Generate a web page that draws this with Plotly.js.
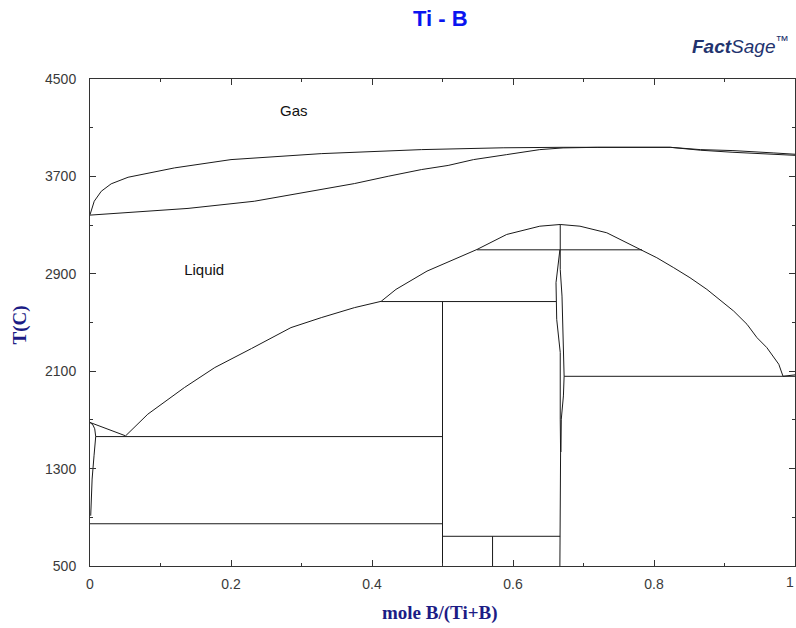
<!DOCTYPE html>
<html>
<head>
<meta charset="utf-8">
<script src="https://cdn.plot.ly/plotly-3.0.1.min.js"></script>
<style>
  html, body { margin: 0; padding: 0; background: #fff; }
  #chart { width: 796px; height: 628px; }
</style>
</head>
<body>
<div id="chart"></div>
<script>
// Ti - B phase diagram, temperature in °C versus mole fraction B/(Ti+B)

// Axis ticks (the label at x = 1 sits flush with the right edge, drawn separately)
const xTickVals  = [0, 0.2, 0.4, 0.6, 0.8];
const xTickText  = ['0', '0.2', '0.4', '0.6', '0.8'];
const xEndLabel  = '1';
const xMinorVals = [0.1, 0.3, 0.5, 0.7, 0.9];
const yTickVals  = [500, 1300, 2100, 2900, 3700, 4500];
const yMinorVals = [900, 1700, 2500, 3300, 4100];

// Gas / liquid two-phase loop
const dewX    = [0, 0.006, 0.016, 0.030, 0.054, 0.12, 0.20, 0.328, 0.47, 0.586, 0.671, 0.823, 0.866, 0.912, 0.969, 1];
const dewT    = [3385, 3496, 3578, 3639, 3693, 3770, 3838, 3887, 3920, 3935, 3939, 3939, 3920, 3912, 3893, 3882];
const bubbleX = [0, 0.044, 0.139, 0.233, 0.281, 0.328, 0.375, 0.423, 0.47, 0.508, 0.544, 0.591, 0.638, 0.671, 0.72, 0.823, 0.866, 0.912, 0.95, 1];
const bubbleT = [3382, 3398, 3437, 3496, 3543, 3592, 3641, 3701, 3756, 3790, 3838, 3879, 3920, 3934, 3939, 3939, 3915, 3898, 3887, 3873];

// Liquidus, Ti-rich branch
const liqTiX = [0, 0.0505];
const liqTiT = [1679, 1569];

// Liquidus, main branch through TiB2 maximum
const liqX = [0.0505, 0.082, 0.134, 0.177, 0.229, 0.285, 0.328, 0.375, 0.413, 0.434, 0.478, 0.549, 0.591, 0.638, 0.667, 0.695, 0.733, 0.783, 0.804, 0.828, 0.851, 0.875, 0.899, 0.913, 0.932, 0.946, 0.960, 0.970, 0.977, 0.983, 1];
const liqT = [1569, 1747, 1966, 2130, 2286, 2458, 2540, 2622, 2674, 2772, 2922, 3100, 3223, 3291, 3305, 3291, 3237, 3097, 3032, 2950, 2868, 2772, 2663, 2594, 2485, 2376, 2294, 2212, 2157, 2058, 2070];

// bcc-Ti solidus / solvus
const solTiX = [0, 0.004, 0.0067, 0.0081, 0.0057, 0.003, 0.001];
const solTiT = [1679, 1660, 1627, 1563, 1405, 1214, 913];

// TiB2 homogeneity range
const tib2LeftX  = [0.6665, 0.661, 0.662, 0.667, 0.667, 0.6675, 0.6665];
const tib2LeftT  = [3097, 2827, 2526, 2253, 1706, 1436, 500];
const tib2RightX = [0.667, 0.667, 0.6695, 0.6715, 0.6725, 0.6715, 0.6685, 0.668];
const tib2RightT = [3097, 2936, 2717, 2253, 2058, 1897, 1706, 1436];

// Invariant (horizontal) lines
const invT  = [1563, 847, 2672, 3097, 2058, 744];
const invX0 = [0.0081, 0, 0.413, 0.549, 0.6725, 0.5];
const invX1 = [0.5, 0.5, 0.661, 0.783, 1, 0.6668];

// Line compounds (vertical lines)
const cmpX  = [0.5, 0.571, 0.667];
const cmpT0 = [500, 500, 3097];
const cmpT1 = [2672, 744, 3305];

// Phase field labels
const labelText = ['Gas', 'Liquid'];
const labelX = [0.289, 0.162];
const labelT = [4225, 2920];

const LINE = {color: '#1a1a1a', width: 1};
const traces = [];
function addLine(x, y) {
  traces.push({type: 'scatter', mode: 'lines', x: x, y: y, line: LINE, hoverinfo: 'skip', showlegend: false});
}
addLine(dewX, dewT);
addLine(bubbleX, bubbleT);
addLine(liqTiX, liqTiT);
addLine(liqX, liqT);
addLine(solTiX, solTiT);
addLine(tib2LeftX, tib2LeftT);
addLine(tib2RightX, tib2RightT);

// horizontal invariants, joined with gaps
const hx = [], hy = [];
invT.forEach((t, i) => { hx.push(invX0[i], invX1[i], null); hy.push(t, t, null); });
addLine(hx, hy);

// vertical compound lines
const vx = [], vy = [];
cmpX.forEach((x, i) => { vx.push(x, x, null); vy.push(cmpT0[i], cmpT1[i], null); });
addLine(vx, vy);

// phase labels
traces.push({
  type: 'scatter', mode: 'text', x: labelX, y: labelT, text: labelText,
  textfont: {family: 'Liberation Sans, Arial, sans-serif', size: 15, color: '#111'},
  hoverinfo: 'skip', showlegend: false
});

const tickFont = {family: 'Liberation Sans, Arial, sans-serif', size: 14, color: '#3a3a3a'};
const axisTitleFont = {family: 'Liberation Serif, Times New Roman, serif', size: 19, color: '#1c1c85'};

const layout = {
  width: 796, height: 628,
  margin: {l: 90, r: 1, t: 79, b: 62, pad: 0},
  paper_bgcolor: '#fff', plot_bgcolor: '#fff',
  title: {
    text: '<b>Ti - B</b>',
    font: {family: 'Liberation Sans, Arial, sans-serif', size: 22, color: '#0a14f0'},
    xref: 'paper', x: 0.497, xanchor: 'center',
    yref: 'container', y: 0.971, yanchor: 'middle'
  },
  xaxis: {
    range: [0, 1], tickmode: 'array', tickvals: xTickVals, ticktext: xTickText,
    ticks: 'inside', ticklen: 6, tickwidth: 1, tickcolor: '#333',
    minor: {tickmode: 'array', tickvals: xMinorVals, ticks: 'inside', ticklen: 3, tickwidth: 1, tickcolor: '#333', showgrid: false},
    showline: true, linecolor: '#333', linewidth: 1, mirror: 'ticks',
    showgrid: false, zeroline: false,
    tickfont: tickFont, ticklabelstandoff: 5, fixedrange: true
  },
  yaxis: {
    range: [500, 4500], tickmode: 'array', tickvals: yTickVals,
    ticks: 'inside', ticklen: 6, tickwidth: 1, tickcolor: '#333',
    minor: {tickmode: 'array', tickvals: yMinorVals, ticks: 'inside', ticklen: 3, tickwidth: 1, tickcolor: '#333', showgrid: false},
    showline: true, linecolor: '#333', linewidth: 1, mirror: 'ticks',
    showgrid: false, zeroline: false, ticklabeloverflow: 'allow',
    tickfont: tickFont, ticklabelstandoff: 10, fixedrange: true
  },
  annotations: [
    {text: xEndLabel, xref: 'paper', yref: 'paper', x: 1, y: 0, xanchor: 'right', yanchor: 'top',
     yshift: -6, xshift: 1, showarrow: false, font: tickFont},
    {text: '<b>T(C)</b>', textangle: -90, xref: 'paper', yref: 'paper',
     x: -0.1, y: 0.495, xanchor: 'center', yanchor: 'middle', showarrow: false, font: axisTitleFont},
    {text: '<b>mole B/(Ti+B)</b>', xref: 'paper', yref: 'paper',
     x: 0.496, y: -0.097, xanchor: 'center', yanchor: 'middle', showarrow: false, font: axisTitleFont},
    {text: '<b><i>Fact</i></b><i>Sage</i><sup>™</sup>', xref: 'paper', yref: 'paper',
     x: 0.995, y: 1.069, xanchor: 'right', yanchor: 'middle', showarrow: false,
     font: {family: 'Liberation Sans Narrow, Liberation Sans, Arial, sans-serif', size: 19, color: '#23336e'}}
  ]
};

Plotly.newPlot('chart', traces, layout, {displayModeBar: false, staticPlot: true});
</script>
</body>
</html>
